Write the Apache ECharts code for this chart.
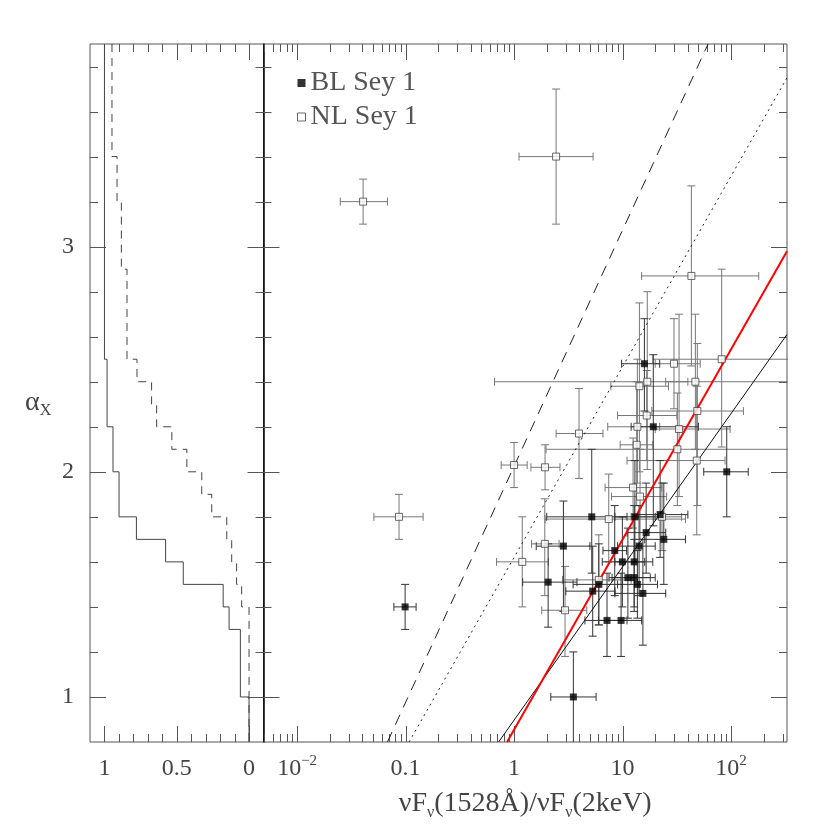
<!DOCTYPE html>
<html>
<head>
<meta charset="utf-8">
<script src="https://cdn.jsdelivr.net/npm/echarts@6.0.0/dist/echarts.min.js"></script>
<style>
  html, body { margin: 0; padding: 0; background: #fff; }
  #chart { width: 830px; height: 830px; }
</style>
</head>
<body>
<div id="chart"></div>
<script>
// axis ranges
const ratioMin = 0.0049, ratioMax = 328;
const alphaMin = 0.8, alphaMax = 3.9;
const fracMin = -0.1, fracMax = 1.1;

// tick values
const fracMajor = [0, 0.5, 1];
const fracMinor = [0.1, 0.2, 0.3, 0.4, 0.6, 0.7, 0.8, 0.9];
const fracLabels = ['0', '0.5', '1'];
const ratioMajor = [0.01, 0.1, 1, 10, 100];
const ratioLabels = ['{b|10}{p|−2}', '0.1', '1', '10', '{b|10}{p|2}'];
const alphaMajor = [1, 2, 3];
const alphaMinor = [1.2, 1.4, 1.6, 1.8, 2.2, 2.4, 2.6, 2.8, 3.2, 3.4, 3.6, 3.8];

// BL Sey 1 (filled squares)
const blX    = [15.9, 19.2, 91.3, 5.2, 13.0, 22.2, 16.5, 24.0, 2.85, 8.47, 14.2, 9.96, 12.8, 2.06, 11.2, 12.8, 6.04, 13.7, 5.31, 15.4, 7.19, 9.69, 3.52, 0.099];
const blXlo  = [9.8, 12, 56, 2.0, 8.5, 14, 11, 16, 1.6, 6.6, 9.0, 6.5, 8.5, 1.2, 7.5, 8.0, 3.5, 9.0, 3.0, 8.5, 4.5, 6.0, 2.18, 0.078];
const blXhi  = [22, 50, 144, 11, 20, 40, 25, 38, 5.0, 10.9, 20, 16, 19, 3.8, 18, 20, 10, 21, 8.5, 25, 11, 15, 5.7, 0.125];
const blY    = [2.48, 2.20, 2.00, 1.80, 1.80, 1.81, 1.73, 1.70, 1.67, 1.65, 1.67, 1.60, 1.60, 1.51, 1.53, 1.53, 1.50, 1.50, 1.47, 1.46, 1.34, 1.34, 1.00, 1.40];
const blYlo  = [2.27, 1.76, 1.80, 1.55, 1.60, 1.62, 1.55, 1.50, 1.38, 1.45, 1.45, 1.40, 1.40, 1.31, 1.35, 1.38, 1.32, 1.35, 1.27, 1.23, 1.18, 1.18, 0.70, 1.30];
const blYhi  = [2.68, 2.52, 2.20, 2.10, 2.05, 2.05, 1.95, 1.95, 1.87, 1.85, 1.85, 1.80, 1.85, 1.68, 1.75, 1.70, 1.68, 1.65, 1.67, 1.70, 1.55, 1.55, 1.20, 1.50];

// NL Sey 1 (open squares)
const nlX    = [0.0406, 2.44, 0.087, 1.0, 1.93, 3.97, 43.1, 82, 29.8, 16.9, 14.3, 46.9, 16.7, 48.9, 13.7, 33.2, 13.5, 32, 48.3, 12.5, 14.5, 7.46, 23.1, 1.92, 1.19, 6.04, 2.95];
const nlXlo  = [0.025, 1.11, 0.051, 0.76, 1.43, 2.44, 15, 19, 20, 0.66, 7.8, 25, 9.0, 18.6, 7.3, 20, 9.5, 1.97, 11, 6.9, 7.9, 1.93, 12, 1.45, 0.69, 2.8, 1.80];
const nlXhi  = [0.068, 5.35, 0.145, 1.32, 2.65, 6.6, 180, 400, 52, 40, 26.5, 400, 31.7, 130, 22, 98, 19, 400, 88, 23, 25.5, 38, 35, 2.6, 2.07, 12, 4.68];
const nlY    = [3.2, 3.4, 1.8, 2.03, 2.02, 2.17, 2.87, 2.50, 2.48, 2.40, 2.38, 2.40, 2.25, 2.27, 2.20, 2.19, 2.12, 2.10, 2.05, 1.93, 1.89, 1.79, 1.80, 1.68, 1.60, 1.52, 1.385];
const nlYlo  = [3.1, 3.1, 1.7, 1.93, 1.92, 1.97, 2.47, 2.11, 2.28, 2.01, 2.0, 2.1, 2.05, 1.85, 1.95, 1.89, 1.85, 1.85, 1.72, 1.75, 1.7, 1.6, 1.65, 1.45, 1.40, 1.32, 1.18];
const nlYhi  = [3.3, 3.7, 1.9, 2.13, 2.12, 2.37, 3.27, 2.90, 2.68, 2.80, 2.75, 2.7, 2.45, 2.57, 2.5, 2.70, 2.4, 2.35, 2.38, 2.15, 2.1, 1.99, 1.95, 1.88, 1.80, 1.72, 1.58];

// cumulative distributions (left panel): fraction between successive alpha levels
const blLevels = [3.9, 2.5, 2.2, 2.0, 1.8, 1.7, 1.6, 1.5, 1.4, 1.3, 1.0, 0.8];
const blFrac   = [1.0, 0.982, 0.941, 0.899, 0.779, 0.577, 0.455, 0.179, 0.138, 0.060, 0];
const nlLevels = [3.9, 3.4, 3.2, 2.9, 2.5, 2.4, 2.3, 2.2, 2.1, 2.0, 1.9, 1.8, 1.7, 1.6, 1.5, 1.4, 0.8];
const nlFrac   = [0.948, 0.913, 0.883, 0.844, 0.775, 0.674, 0.639, 0.534, 0.430, 0.327, 0.258, 0.154, 0.120, 0.086, 0.051, 0];

// relations (end points)
const dashedLine = [[0.068, 0.8], [61.4, 3.9]];
const dottedLine = [[0.1076, 0.8], [328, 3.75]];
const redLine    = [[0.862, 0.8], [328, 2.98]];
const blackLine  = [[0.72, 0.8], [328, 2.61]];

const serif = 'Liberation Serif';
const textCol = '#444';

function stepPoints(levels, frac) {
  const pts = [];
  frac.forEach((f, i) => {
    pts.push([f, levels[i]]);
    pts.push([f, levels[i + 1]]);
  });
  return pts;
}

function minorRatios() {
  const out = [];
  for (let d = -3; d <= 2; d++) {
    for (let k = 2; k <= 9; k++) {
      const v = k * Math.pow(10, d);
      if (v > ratioMin && v < ratioMax) out.push(v);
    }
  }
  return out;
}

function tickData(xMajor, xMinor, xRef) {
  const d = [];
  xMajor.forEach(v => d.push([v, 2, 1, 0]));
  xMinor.forEach(v => d.push([v, 2, 0, 0]));
  alphaMajor.forEach(v => d.push([xRef, v, 1, 1]));
  alphaMinor.forEach(v => d.push([xRef, v, 0, 1]));
  return d;
}

function renderTick(params, api) {
  const cs = params.coordSys;
  const len = api.value(2) ? 16 : 8;
  const p = api.coord([api.value(0), api.value(1)]);
  const style = { stroke: '#555', lineWidth: 1 };
  if (!api.value(3)) {
    const x = Math.round(p[0]) + 0.5;
    return { type: 'group', children: [
      { type: 'line', shape: { x1: x, y1: cs.y + cs.height, x2: x, y2: cs.y + cs.height - len }, style },
      { type: 'line', shape: { x1: x, y1: cs.y, x2: x, y2: cs.y + len }, style }
    ]};
  }
  const y = Math.round(p[1]) + 0.5;
  return { type: 'group', children: [
    { type: 'line', shape: { x1: cs.x, y1: y, x2: cs.x + len, y2: y }, style },
    { type: 'line', shape: { x1: cs.x + cs.width, y1: y, x2: cs.x + cs.width - len, y2: y }, style }
  ]};
}

function errRenderer(color) {
  return function (params, api) {
    const x = api.value(0), y = api.value(1);
    const l = api.coord([api.value(2), y]);
    const r = api.coord([api.value(3), y]);
    const b = api.coord([x, api.value(4)]);
    const t = api.coord([x, api.value(5)]);
    const c = 4;
    const style = { stroke: color, lineWidth: 1 };
    return { type: 'group', children: [
      { type: 'line', shape: { x1: l[0], y1: l[1], x2: r[0], y2: r[1] }, style },
      { type: 'line', shape: { x1: l[0], y1: l[1] - c, x2: l[0], y2: l[1] + c }, style },
      { type: 'line', shape: { x1: r[0], y1: r[1] - c, x2: r[0], y2: r[1] + c }, style },
      { type: 'line', shape: { x1: b[0], y1: b[1], x2: t[0], y2: t[1] }, style },
      { type: 'line', shape: { x1: b[0] - c, y1: b[1], x2: b[0] + c, y2: b[1] }, style },
      { type: 'line', shape: { x1: t[0] - c, y1: t[1], x2: t[0] + c, y2: t[1] }, style }
    ]};
  };
}

function errData(xs, xlo, xhi, ys, ylo, yhi) {
  return xs.map((x, i) => [x, ys[i], xlo[i], xhi[i], ylo[i], yhi[i]]);
}

function ratioLabel(v) {
  const i = ratioMajor.findIndex(m => Math.abs(Math.log10(v) - Math.log10(m)) < 1e-6);
  return i < 0 ? '' : ratioLabels[i];
}

const chart = echarts.init(document.getElementById('chart'));
chart.setOption({
  animation: false,
  backgroundColor: '#fff',
  grid: [
    { left: 90, top: 44, width: 173.5, height: 698, show: true, borderColor: '#555', borderWidth: 1 },
    { left: 263.5, top: 44, width: 523.5, height: 698, show: true, borderColor: '#555', borderWidth: 1 }
  ],
  legend: {
    left: 292, top: 64, orient: 'vertical', itemWidth: 8, itemHeight: 8, itemGap: 6,
    textStyle: { fontFamily: serif, fontSize: 28, lineHeight: 28, color: '#555' },
    data: [
      { name: 'BL Sey 1', icon: 'rect', itemStyle: { color: '#000', borderWidth: 0 } },
      { name: 'NL Sey 1', icon: 'rect', itemStyle: { color: '#fff', borderColor: '#444', borderWidth: 1 } }
    ]
  },
  xAxis: [
    {
      gridIndex: 0, type: 'value', min: fracMin, max: fracMax, inverse: true,
      axisLine: { show: false }, axisTick: { show: false }, splitLine: { show: false },
      axisLabel: {
        customValues: fracMajor, margin: 12,
        formatter: v => { const i = fracMajor.findIndex(m => Math.abs(m - v) < 1e-6); return i < 0 ? '' : fracLabels[i]; },
        fontFamily: serif, fontSize: 24, lineHeight: 30, color: textCol
      }
    },
    {
      gridIndex: 1, type: 'log', min: ratioMin, max: ratioMax,
      axisLine: { show: false }, axisTick: { show: false }, splitLine: { show: false },
      axisLabel: {
        customValues: ratioMajor, margin: 12, formatter: ratioLabel,
        fontFamily: serif, fontSize: 24, lineHeight: 30, color: textCol,
        rich: {
          b: { fontFamily: serif, fontSize: 24, lineHeight: 30, color: textCol },
          p: { fontFamily: serif, fontSize: 15, lineHeight: 17, verticalAlign: 'top', color: textCol }
        }
      },
      name: '{t|νF}{s|ν}{t|(1528Å)/νF}{s|ν}{t|(2keV)}',
      nameLocation: 'middle', nameGap: 45,
      nameTextStyle: {
        rich: {
          t: { fontFamily: serif, fontSize: 28, lineHeight: 34, color: textCol },
          s: { fontFamily: serif, fontSize: 16, lineHeight: 19, verticalAlign: 'bottom', color: textCol }
        }
      }
    }
  ],
  yAxis: [
    {
      gridIndex: 0, type: 'value', min: alphaMin, max: alphaMax,
      axisLine: { show: false }, axisTick: { show: false }, splitLine: { show: false },
      axisLabel: {
        customValues: alphaMajor, margin: 16,
        formatter: v => { const i = alphaMajor.findIndex(m => Math.abs(m - v) < 1e-6); return i < 0 ? '' : String(alphaMajor[i]); },
        fontFamily: serif, fontSize: 24, color: textCol
      }
    },
    {
      gridIndex: 1, type: 'value', min: alphaMin, max: alphaMax,
      axisLine: { show: true, onZero: false, lineStyle: { color: '#000', width: 1.5 } },
      axisTick: { show: false }, splitLine: { show: false }, axisLabel: { show: false }
    }
  ],
  graphic: [
    {
      type: 'text', left: 25, top: 389,
      style: {
        text: '{a|α}{x|X}',
        rich: {
          a: { fontFamily: serif, fontSize: 28, lineHeight: 32, fill: textCol },
          x: { fontFamily: serif, fontSize: 16, lineHeight: 19, verticalAlign: 'bottom', fill: textCol }
        }
      }
    }
  ],
  series: [
    { type: 'custom', name: 'ticks0', xAxisIndex: 0, yAxisIndex: 0, renderItem: renderTick,
      data: tickData(fracMajor, fracMinor, 1), encode: { x: 0, y: 1 }, z: 1, silent: true },
    { type: 'custom', name: 'ticks1', xAxisIndex: 1, yAxisIndex: 1, renderItem: renderTick,
      data: tickData(ratioMajor, minorRatios(), 1), encode: { x: 0, y: 1 }, z: 1, silent: true },

    { type: 'line', name: 'BL cumulative', xAxisIndex: 0, yAxisIndex: 0, data: stepPoints(blLevels, blFrac),
      showSymbol: false, lineStyle: { color: '#444', width: 1 }, z: 2 },
    { type: 'line', name: 'NL cumulative', xAxisIndex: 0, yAxisIndex: 0, data: stepPoints(nlLevels, nlFrac),
      showSymbol: false, lineStyle: { color: '#444', width: 1, type: [8, 6] }, z: 2 },

    { type: 'custom', name: 'NL err', xAxisIndex: 1, yAxisIndex: 1, clip: true, renderItem: errRenderer('#777'),
      data: errData(nlX, nlXlo, nlXhi, nlY, nlYlo, nlYhi), encode: { x: 0, y: 1 }, z: 2, silent: true },
    { type: 'custom', name: 'BL err', xAxisIndex: 1, yAxisIndex: 1, clip: true, renderItem: errRenderer('#333'),
      data: errData(blX, blXlo, blXhi, blY, blYlo, blYhi), encode: { x: 0, y: 1 }, z: 2, silent: true },

    { type: 'line', name: 'dashed', xAxisIndex: 1, yAxisIndex: 1, data: dashedLine, showSymbol: false,
      lineStyle: { color: '#222', width: 1, type: [11, 8] }, z: 3 },
    { type: 'line', name: 'dotted', xAxisIndex: 1, yAxisIndex: 1, data: dottedLine, showSymbol: false,
      lineStyle: { color: '#222', width: 1, type: [2, 4] }, z: 3 },
    { type: 'line', name: 'black', xAxisIndex: 1, yAxisIndex: 1, data: blackLine, showSymbol: false,
      lineStyle: { color: '#111', width: 1 }, z: 3 },
    { type: 'line', name: 'red', xAxisIndex: 1, yAxisIndex: 1, data: redLine, showSymbol: false,
      lineStyle: { color: '#f00', width: 2 }, z: 3 },

    { type: 'scatter', name: 'NL Sey 1', xAxisIndex: 1, yAxisIndex: 1, symbol: 'rect', symbolSize: 7,
      itemStyle: { color: '#fff', borderColor: '#444', borderWidth: 1 },
      data: nlX.map((x, i) => [x, nlY[i]]), z: 4 },
    { type: 'scatter', name: 'BL Sey 1', xAxisIndex: 1, yAxisIndex: 1, symbol: 'rect', symbolSize: 7,
      itemStyle: { color: '#000' },
      data: blX.map((x, i) => [x, blY[i]]), z: 5 }
  ]
});
</script>
</body>
</html>
